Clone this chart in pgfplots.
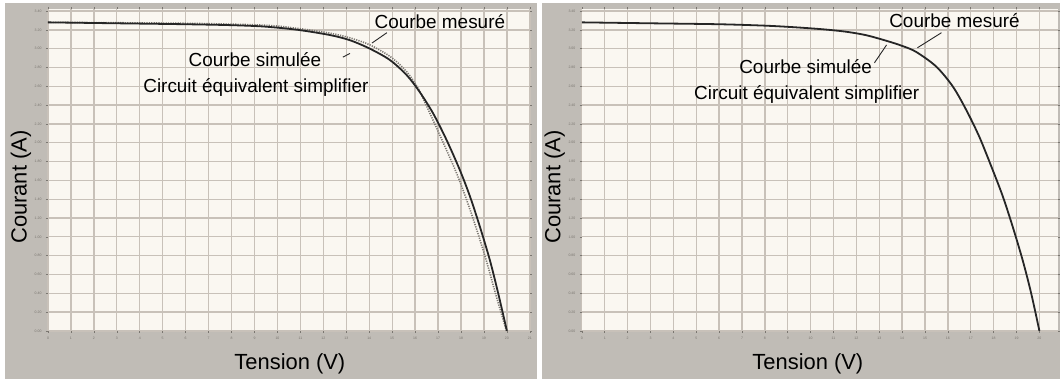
\documentclass[border=0pt]{standalone}
\usepackage{pgfplots}
\pgfplotsset{compat=1.18}
\usepackage{fontspec}
\setmainfont{Liberation Sans}

\definecolor{frame}{HTML}{C0BCB6}
\definecolor{paper}{HTML}{FAF7F1}
\definecolor{gridc}{HTML}{C8C1B9}
\definecolor{curve}{HTML}{262626}
\definecolor{meas}{HTML}{7C7872}
\definecolor{ticktxt}{HTML}{7A7670}

% I-V curves of the PV module
\pgfplotstableread{
V I
0 3.28
3 3.27
6 3.26
8 3.25
9.45 3.235
10.9 3.20
12.29 3.145
13.16 3.09
14.03 3.00
14.9 2.88
15.63 2.72
16.2 2.54
16.79 2.31
17.37 2.03
17.95 1.71
18.39 1.43
18.82 1.11
19.26 0.75
19.62 0.40
20.0 0.00
}\simleft

\pgfplotstableread{
V I
0 3.28
6 3.27
9.4 3.25
10.9 3.215
12.29 3.165
13.16 3.115
14.03 3.04
14.95 2.91
15.65 2.75
16.15 2.57
16.65 2.31
17.17 2.03
17.75 1.71
18.19 1.43
18.64 1.11
19.1 0.75
19.5 0.40
19.98 0.00
}\measleft

\pgfplotstableread{
V I
0 3.28
3 3.27
6 3.26
8 3.245
9.3 3.228
10.5 3.207
11.5 3.182
12.4 3.145
13.3 3.085
14.0 3.03
14.62 2.965
15.49 2.81
16.21 2.60
16.8 2.35
17.38 2.06
17.96 1.71
18.4 1.43
18.83 1.11
19.27 0.75
19.64 0.40
20.0 0.00
}\measright

\pgfplotsset{
  ivpanel/.style={
    scale only axis,
    height=321.8bp,
    xmin=0, ymin=0, ymax=3.42,
    xtick={0,1,...,21},
    ytick={0,0.2,...,3.41},
    grid=major,
    major grid style={gridc, line width=1.3bp},
    axis background/.style={fill=paper},
    axis line style={draw=none},
    tick align=outside,
    major tick length=2bp,
    tick style={ticktxt, line width=0.6bp},
    ticklabel style={font=\fontsize{3.5}{3.5}\selectfont, text=ticktxt},
    /pgf/number format/assume math mode=true,
    y tick label style={/pgf/number format/fixed, /pgf/number format/fixed zerofill, /pgf/number format/precision=2, xshift=-1bp},
    x tick label style={yshift=-1bp},
    label style={font=\fontsize{22}{22}\selectfont},
    ylabel={Courant (A)},
    xlabel={Tension (V)},
    clip=false,
  },
}
\tikzset{note/.style={font=\fontsize{19}{19}\selectfont, anchor=center}}

\begin{document}
\begin{tikzpicture}[x=1bp, y=1bp]
  % page and panel frames
  \fill[white] (0,0) rectangle (1060,382);
  \fill[frame] (5,3) rectangle (537,379);
  \fill[frame] (542,3) rectangle (1060,379);

  % left panel: simulated and measured curves
  \begin{axis}[ivpanel, at={(48bp,51bp)}, anchor=south west,
      width=482bp, xmax=21,
      xlabel style={at={(axis description cs:0.502,-0.1025)}, anchor=center},
      ylabel style={at={(axis description cs:-0.056,0.447)}, anchor=center}]
    \addplot[meas, line width=1.6bp, dash pattern=on 1.2bp off 1.2bp, smooth] table[x=V, y=I] {\measleft};
    \addplot[curve, line width=1.8bp, smooth] table[x=V, y=I] {\simleft};
    \node[note] at (axis cs:17.08,3.29) {Courbe mesuré};
    \node[note] at (axis cs:9.02,2.88) {Courbe simulée};
    \node[note] at (axis cs:9.06,2.59) {Circuit équivalent simplifier};
    \draw[curve, line width=0.9bp] (axis cs:14.12,3.06) -- (axis cs:14.77,3.17);
    \draw[curve, line width=0.9bp] (axis cs:12.85,2.91) -- (axis cs:13.16,2.95);
  \end{axis}

  % right panel: measured curve
  \begin{axis}[ivpanel, at={(582bp,51bp)}, anchor=south west,
      width=476bp, xmax=20.8,
      xlabel style={at={(axis description cs:0.475,-0.1025)}, anchor=center},
      ylabel style={at={(axis description cs:-0.057,0.447)}, anchor=center}]
    \addplot[curve, line width=1.8bp, smooth] table[x=V, y=I] {\measright};
    \node[note] at (axis cs:16.29,3.30) {Courbe mesuré};
    \node[note] at (axis cs:9.78,2.805) {Courbe simulée};
    \node[note] at (axis cs:9.83,2.51) {Circuit équivalent simplifier};
    \draw[curve, line width=0.9bp] (axis cs:14.67,3.01) -- (axis cs:15.72,3.17);
    \draw[curve, line width=0.9bp] (axis cs:12.79,2.85) -- (axis cs:13.32,3.04);
  \end{axis}
\end{tikzpicture}
\end{document}
